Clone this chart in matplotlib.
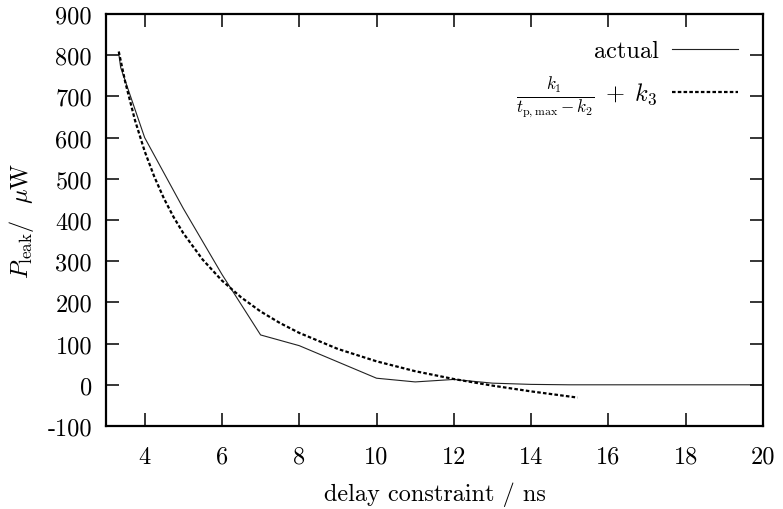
import matplotlib
matplotlib.use("Agg")
import matplotlib.pyplot as plt

# actual measured leakage power
actual_x = [3.33, 3.38, 4, 5, 6, 7, 8, 10, 11, 12, 13, 14, 15, 16, 17, 18, 19, 20]
actual_y = [804, 770, 600, 428, 268, 121, 95, 16, 7, 13, 4, 1, 0, 0, 0, 0, 0, 0]

# fitted curve k1/(t - k2) + k3
fit_x = [3.33, 3.5, 3.75, 4.0, 4.25, 4.5, 4.75, 5.0, 5.5, 6.0, 6.5, 7.0, 7.5, 8.0,
         9.0, 10.0, 11.0, 12.0, 13.0, 14.0, 15.2]
fit_y = [809, 734, 642, 567, 505, 452, 407, 368, 304, 253, 212, 178, 150, 126,
         87, 57, 33, 14, -2, -16, -31]

x_ticks = [4, 6, 8, 10, 12, 14, 16, 18, 20]
y_ticks = [-100, 0, 100, 200, 300, 400, 500, 600, 700, 800, 900]
legend_labels = ['actual', r'$\frac{k_1}{t_{\mathrm{p,max}}-k_2}\;+\;k_3$']

plt.rcParams['font.family'] = 'serif'
plt.rcParams['font.serif'] = ['cmr10', 'DejaVu Serif']
plt.rcParams['mathtext.fontset'] = 'cm'
plt.rcParams['axes.unicode_minus'] = False

fs = 17.5
fit_style = dict(color='black', lw=1.6, linestyle=(0, (1.6, 1.0)))
act_style = dict(color='#222222', lw=0.8)

fig = plt.figure(figsize=(7.83, 5.10), dpi=100)
ax = fig.add_axes([106/783, 1 - 427/510, (763-106)/783, (427-15)/510])

ax.plot(actual_x, actual_y, **act_style)
ax.plot(fit_x, fit_y, **fit_style)

ax.set_xlim(3, 20)
ax.set_ylim(-100, 900)
ax.set_xticks(x_ticks)
ax.set_xticklabels([str(v) for v in x_ticks], fontsize=fs)
ax.set_yticks(y_ticks)
ax.set_yticklabels([str(v) for v in y_ticks], fontsize=fs)
ax.tick_params(direction='in', length=9.5, width=1.1, top=True, right=True)
ax.tick_params(axis='x', pad=14)
ax.tick_params(axis='y', pad=10)
for s in ax.spines.values():
    s.set_linewidth(1.6)

ax.set_xlabel('delay constraint / ns', fontsize=fs, labelpad=10)
ax.set_ylabel(r'$P_{\mathrm{leak}}$/  $\mu$W', fontsize=fs, labelpad=8)

# key (gnuplot style: text right-aligned, sample to the right)
ax.text(0.8417, 0.8956, legend_labels[0], transform=ax.transAxes,
        ha='right', va='baseline', fontsize=fs)
ax.plot([0.8615, 0.962], [0.915, 0.915], transform=ax.transAxes, **act_style)
ax.text(0.8387, 0.7896, legend_labels[1], transform=ax.transAxes,
        ha='right', va='baseline', fontsize=fs)
ax.plot([0.8615, 0.962], [0.8114, 0.8114], transform=ax.transAxes, **fit_style)

fig.savefig('out.png', dpi=100)
